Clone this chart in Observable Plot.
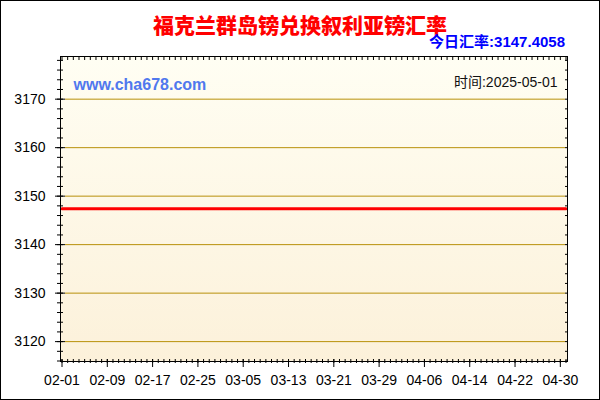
<!DOCTYPE html>
<html><head><meta charset="utf-8">
<script src="https://cdn.jsdelivr.net/npm/d3@7"></script>
<script src="https://cdn.jsdelivr.net/npm/@observablehq/plot@0.6"></script>
<style>
body{margin:0;background:#fff;}
#wrap{position:relative;width:600px;height:400px;overflow:hidden;background:#fff;font-family:"Liberation Sans",Arial,sans-serif;}
#head{position:relative;height:50px;}
#title{position:absolute;left:0;top:13px;width:600px;text-align:center;font:900 21px/22px "Noto Sans CJK SC",sans-serif;color:#ff0000;white-space:nowrap;}
#rate{position:absolute;right:35px;top:35px;font:bold 15px/14px "Liberation Sans","Noto Sans CJK SC",sans-serif;color:#0000ff;white-space:nowrap;}
#border{position:absolute;left:0;top:0;width:600px;height:400px;box-sizing:border-box;border:1px solid #000;pointer-events:none;}
svg{display:block;}
</style></head><body>
<div id="wrap"><div id="head"><div id="title"></div><div id="rate"></div></div><div id="chart"></div><div id="border"></div></div>
<script>
const titleText = "福克兰群岛镑兑换叙利亚镑汇率";
const rateLabel = "今日汇率:";
const currentRate = "3147.4058";
const siteText = "www.cha678.com";
const timeText = "时间:2025-05-01";
const startDate = "2025-02-01";
const endDate = "2025-05-01";
// daily rates 02-01 .. 05-01 (flat)
const rates = [
  3147.4058,3147.4058,3147.4058,3147.4058,3147.4058,3147.4058,3147.4058,3147.4058,3147.4058,3147.4058,
  3147.4058,3147.4058,3147.4058,3147.4058,3147.4058,3147.4058,3147.4058,3147.4058,3147.4058,3147.4058,
  3147.4058,3147.4058,3147.4058,3147.4058,3147.4058,3147.4058,3147.4058,3147.4058,3147.4058,3147.4058,
  3147.4058,3147.4058,3147.4058,3147.4058,3147.4058,3147.4058,3147.4058,3147.4058,3147.4058,3147.4058,
  3147.4058,3147.4058,3147.4058,3147.4058,3147.4058,3147.4058,3147.4058,3147.4058,3147.4058,3147.4058,
  3147.4058,3147.4058,3147.4058,3147.4058,3147.4058,3147.4058,3147.4058,3147.4058,3147.4058,3147.4058,
  3147.4058,3147.4058,3147.4058,3147.4058,3147.4058,3147.4058,3147.4058,3147.4058,3147.4058,3147.4058,
  3147.4058,3147.4058,3147.4058,3147.4058,3147.4058,3147.4058,3147.4058,3147.4058,3147.4058,3147.4058,
  3147.4058,3147.4058,3147.4058,3147.4058,3147.4058,3147.4058,3147.4058,3147.4058,3147.4058,3147.4058
];
const xTickLabels = ["02-01","02-09","02-17","02-25","03-05","03-13","03-21","03-29","04-06","04-14","04-22","04-30"];
const yTicks = [3120,3130,3140,3150,3160,3170];
const yDomain = [3115.9, 3178.8];

document.getElementById("title").textContent = titleText;
document.getElementById("rate").textContent = rateLabel + currentRate;

const parse = d3.utcParse("%Y-%m-%d");
const dates = d3.utcDay.range(parse(startDate), d3.utcDay.offset(parse(endDate), 1));
const data = dates.map((d, i) => ({date: d, rate: rates[i]}));
const majorX = xTickLabels.map(s => parse("2025-" + s));
const minorY = d3.range(3116, 3179, 2);
const fmt = d3.utcFormat("%m-%d");

const chart = Plot.plot({
  width: 600, height: 350,
  marginLeft: 60, marginRight: 33, marginTop: 6, marginBottom: 39,
  style: {fontFamily: '"Liberation Sans", Arial, sans-serif', fontSize: "14px", color: "#000", background: "transparent", overflow: "visible"},
  x: {type: "utc", domain: [dates[0], dates[dates.length - 1]], range: [61.5, 565.5], label: null},
  y: {domain: yDomain, label: null},
  marks: [
    Plot.frame({fill: "url(#bgGrad)", stroke: "none"}),
    Plot.gridY(yTicks, {stroke: "#b8900a", strokeOpacity: 1, insetLeft: 5, insetRight: 2}),
    Plot.text([siteText], {frameAnchor: "top-left", dx: 13, dy: 28.5, lineAnchor: "middle", textAnchor: "start", fill: "#5078ee", fontWeight: "bold", fontSize: 16}),
    Plot.text([timeText], {frameAnchor: "top-right", dx: -10, dy: 26, lineAnchor: "middle", textAnchor: "end", fill: "#111", fontSize: 14, fontFamily: '"Liberation Sans", "Noto Sans CJK SC", sans-serif'}),
    Plot.line(data, {x: "date", y: "rate", stroke: "#ff0000", strokeWidth: 3}),
    Plot.axisX(dates, {anchor: "bottom", tickSize: 4, dy: -2, fill: "none", label: null}),
    Plot.axisX(majorX, {anchor: "bottom", tickSize: 8, dy: -2, fill: "none", label: null}),
    Plot.axisX(majorX, {anchor: "bottom", tickSize: 0, tickPadding: 13.5, tickFormat: fmt, fill: "#000", fontSize: 14, label: null}),
    Plot.axisX(dates, {anchor: "top", tickSize: 3, dy: 3, fill: "none", label: null}),
    Plot.axisY(yTicks, {anchor: "left", tickSize: 10, dx: 5, fill: "none", label: null}),
    Plot.axisY(minorY, {anchor: "left", tickSize: 6, dx: 3, fill: "none", label: null}),
    Plot.axisY(yTicks, {anchor: "left", tickSize: 0, tickPadding: 15, tickFormat: d3.format("d"), fill: "#000", fontSize: 14, label: null}),
    Plot.axisY(minorY, {anchor: "right", tickSize: 3, dx: -3, fill: "none", label: null}),
    Plot.frame({stroke: "#000", strokeWidth: 1})
  ]
});

const svg = chart.tagName.toLowerCase() === "svg" ? chart : chart.querySelector("svg");
const ns = "http://www.w3.org/2000/svg";
const defs = document.createElementNS(ns, "defs");
defs.innerHTML = '<linearGradient id="bgGrad" x1="0" y1="0" x2="0" y2="1"><stop offset="0" stop-color="#fffef3"/><stop offset="1" stop-color="#fcf1da"/></linearGradient>';
svg.insertBefore(defs, svg.firstChild);
document.getElementById("chart").appendChild(chart);
</script>
</body></html>
